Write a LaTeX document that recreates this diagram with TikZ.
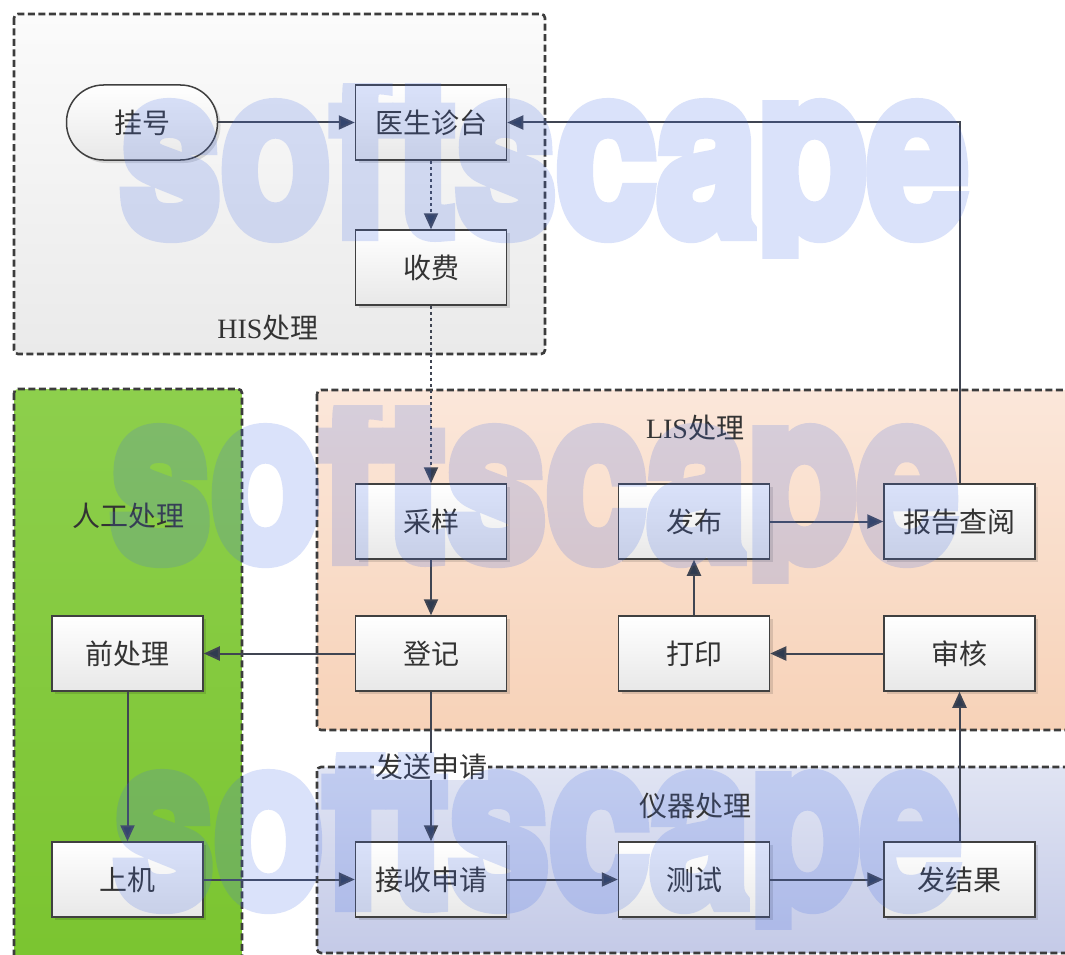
\documentclass[tikz,border=0pt]{standalone}
\usepackage{fontspec}
\usepackage{graphicx}
\setmainfont{Liberation Serif}
\newfontfamily\cjk{Noto Sans CJK SC}
\newfontfamily\wmfont{texgyreheros-bold.otf}[FakeBold=6]
\usetikzlibrary{arrows.meta,shadows}
\definecolor{linec}{HTML}{404552}
\definecolor{tipc}{HTML}{2F3B50}
\definecolor{contc}{HTML}{3C3C3C}
\definecolor{txtc}{HTML}{333333}
\definecolor{hisA}{HTML}{FBFBFB}
\definecolor{hisB}{HTML}{EAEAEA}
\definecolor{lisA}{HTML}{FBE7DA}
\definecolor{lisB}{HTML}{F7D2B8}
\definecolor{grnA}{HTML}{8DCF4C}
\definecolor{grnB}{HTML}{7AC42F}
\definecolor{insA}{HTML}{E0E4F3}
\definecolor{insB}{HTML}{C4CAE7}
\definecolor{wmblue}{HTML}{466EE6}
\begin{document}
\begin{tikzpicture}[x=1pt,y=-1pt,
  cont/.style={draw=contc, line width=2.6pt, dash pattern=on 7pt off 3.5pt, rounded corners=4pt},
  box/.style={draw=black!75, line width=1.5pt, minimum width=151pt, minimum height=75pt,
    top color=white, bottom color=black!9, inner sep=0pt,
    font=\cjk\fontsize{28}{28}\selectfont, text=txtc,
    drop shadow={shadow xshift=3pt, shadow yshift=-3pt, fill=black, opacity=0.12}},
  stad/.style={box, rounded corners=37pt},
  lbl/.style={font=\fontsize{28}{28}\selectfont, text=txtc, inner sep=1pt},
  arr/.style={draw=linec, line width=2pt, -{Triangle[length=16pt,width=14pt,fill=tipc]}},
  dotarr/.style={arr, dash pattern=on 3pt off 3pt},
  wm/.style={anchor=base west, inner sep=0pt, text=wmblue, font=\wmfont\fontsize{235}{235}\selectfont}
]
\useasboundingbox (0,0) rectangle (1065,955);
\fill[white] (0,0) rectangle (1065,955);
\begin{scope}
\clip (0,0) rectangle (1065,955);
\path[cont, top color=hisA, bottom color=hisB] (14,14) rectangle (545,354);
\path[cont, top color=grnA, bottom color=grnB] (14,389) rectangle (242,985);
\path[cont, top color=lisA, bottom color=lisB] (317,390) rectangle (1095,730);
\path[cont, top color=insA, bottom color=insB] (317,767) rectangle (1095,953);
\end{scope}

\node[lbl] (his) at (268,328) {HIS{\cjk 处理}};
\node[lbl] (lis) at (695,428) {LIS{\cjk 处理}};
\node[lbl] (rg) at (128,516) {\cjk 人工处理};
\node[lbl] (yq) at (695,806) {\cjk 仪器处理};

\node[stad] (gh) at (142,122.5) {挂号};
\node[box] (ys) at (431,122.5) {医生诊台};
\node[box] (sf) at (431,267.5) {收费};
\node[box] (cy) at (431,521.5) {采样};
\node[box] (fb) at (694,521.5) {发布};
\node[box] (bg) at (959.5,521.5) {报告查阅};
\node[box] (qcl) at (127.5,653.5) {前处理};
\node[box] (dj) at (431,653.5) {登记};
\node[box] (dy) at (694,653.5) {打印};
\node[box] (sh) at (959.5,653.5) {审核};
\node[box] (sj) at (127.5,879.5) {上机};
\node[box] (js) at (431,879.5) {接收申请};
\node[box] (cs) at (694,879.5) {测试};
\node[box] (fj) at (959.5,879.5) {发结果};

\draw[arr] (gh) -- (ys);
\draw[dotarr] (ys) -- (sf);
\draw[dotarr] (sf) -- (cy);
\draw[arr] (bg.north) |- (ys.east);
\draw[arr] (cy) -- (dj);
\draw[arr] (dj) -- (qcl);
\draw[arr] (dj) -- node[lbl, fill=white, font=\cjk\fontsize{28}{28}\selectfont] (fs) {发送申请} (js);
\draw[arr] (qcl) -- (sj);
\draw[arr] (sj) -- (js);
\draw[arr] (js) -- (cs);
\draw[arr] (cs) -- (fj);
\draw[arr] (fj) -- (sh);
\draw[arr] (sh) -- (dy);
\draw[arr] (dy) -- (fb);
\draw[arr] (fb) -- (bg);

\begin{scope}[transparency group, opacity=0.2]
\begin{scope}
\clip (0,84) rectangle (1065,258);
\node[wm] (w1) at (120,234) {\scalebox{0.77}[1]{softscape}};
\end{scope}
\begin{scope}
\clip (0,405) rectangle (1065,583);
\node[wm] (w2) at (110,559) {\scalebox{0.77}[1]{softscape}};
\end{scope}
\begin{scope}
\clip (0,752) rectangle (1065,929);
\node[wm] (w3) at (113,905) {\scalebox{0.77}[1]{softscape}};
\end{scope}
\end{scope}
\end{tikzpicture}
\end{document}
